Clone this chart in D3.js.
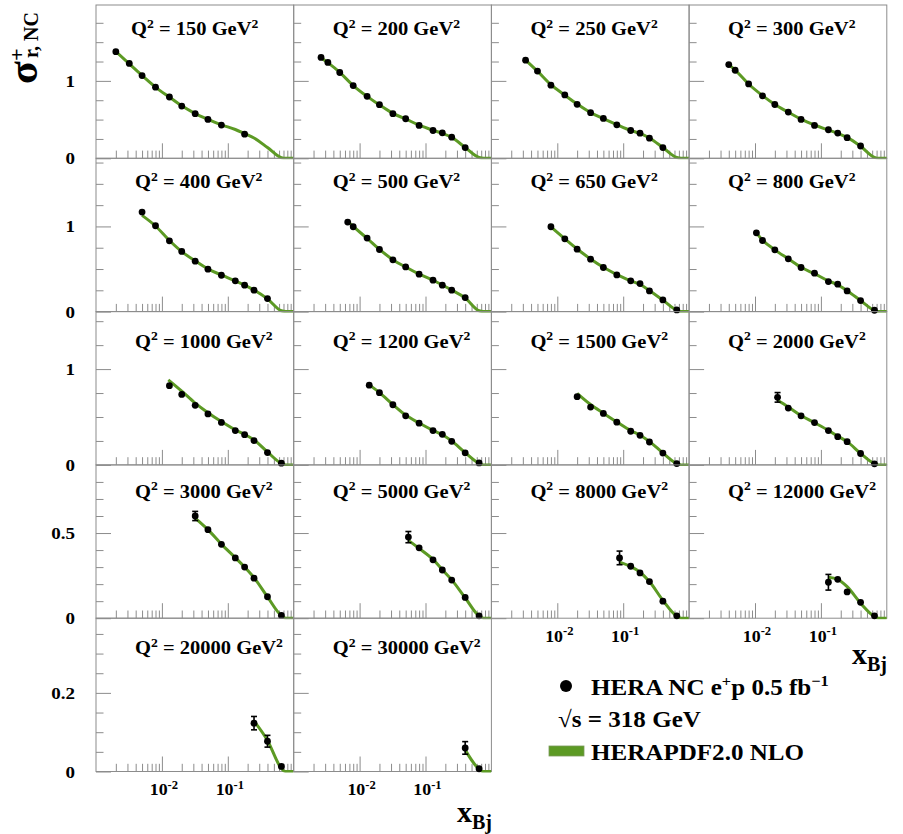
<!DOCTYPE html>
<html>
<head>
<meta charset="utf-8">
<script src="https://cdn.jsdelivr.net/npm/d3@7"></script>
<style>
  body { margin: 0; background: #fff; }
  svg { display: block; }
</style>
</head>
<body>
<svg id="chart" width="903" height="834"></svg>
<script>
// Q^2 bins, one panel each (GeV^2)
const q2 = [150, 200, 250, 300, 400, 500, 650, 800, 1000, 1200, 1500, 2000, 3000, 5000, 8000, 12000, 20000, 30000];

// measured points: Bjorken x per bin
const xBj = [
  [0.002, 0.0032, 0.005, 0.008, 0.013, 0.02, 0.032, 0.05, 0.08, 0.18],
  [0.0026, 0.0033, 0.005, 0.008, 0.013, 0.02, 0.032, 0.05, 0.08, 0.13, 0.18, 0.25, 0.4],
  [0.0033, 0.005, 0.008, 0.013, 0.02, 0.032, 0.05, 0.08, 0.13, 0.18, 0.25, 0.4],
  [0.004, 0.005, 0.008, 0.013, 0.02, 0.032, 0.05, 0.08, 0.13, 0.18, 0.25, 0.4],
  [0.005, 0.008, 0.013, 0.02, 0.032, 0.05, 0.08, 0.13, 0.18, 0.25, 0.4],
  [0.0066, 0.008, 0.013, 0.02, 0.032, 0.05, 0.08, 0.13, 0.18, 0.25, 0.4],
  [0.008, 0.013, 0.02, 0.032, 0.05, 0.08, 0.13, 0.18, 0.25, 0.4, 0.65],
  [0.0105, 0.013, 0.02, 0.032, 0.05, 0.08, 0.13, 0.18, 0.25, 0.4, 0.65],
  [0.013, 0.02, 0.032, 0.05, 0.08, 0.13, 0.18, 0.25, 0.4, 0.65],
  [0.014, 0.02, 0.032, 0.05, 0.08, 0.13, 0.18, 0.25, 0.4, 0.65],
  [0.02, 0.032, 0.05, 0.08, 0.13, 0.18, 0.25, 0.4, 0.65],
  [0.022, 0.032, 0.05, 0.08, 0.13, 0.18, 0.25, 0.4, 0.65],
  [0.032, 0.05, 0.08, 0.13, 0.18, 0.25, 0.4, 0.65],
  [0.055, 0.08, 0.13, 0.18, 0.25, 0.4, 0.65],
  [0.088, 0.13, 0.18, 0.25, 0.4, 0.65],
  [0.13, 0.18, 0.25, 0.4, 0.65],
  [0.25, 0.4, 0.65],
  [0.4, 0.65]
];

// measured reduced cross section per bin
const sigma = [
  [1.377, 1.225, 1.069, 0.918, 0.792, 0.675, 0.576, 0.502, 0.429, 0.312],
  [1.303, 1.238, 1.108, 0.939, 0.801, 0.693, 0.576, 0.511, 0.424, 0.359, 0.329, 0.273, 0.139],
  [1.268, 1.126, 0.944, 0.818, 0.697, 0.589, 0.515, 0.433, 0.359, 0.325, 0.260, 0.139],
  [1.210, 1.137, 0.961, 0.807, 0.695, 0.597, 0.502, 0.425, 0.369, 0.326, 0.266, 0.159],
  [1.169, 1.008, 0.831, 0.706, 0.592, 0.498, 0.427, 0.361, 0.310, 0.251, 0.153],
  [1.051, 0.996, 0.863, 0.729, 0.608, 0.525, 0.439, 0.369, 0.310, 0.251, 0.165],
  [0.996, 0.855, 0.733, 0.616, 0.518, 0.431, 0.361, 0.329, 0.243, 0.137, 0.020],
  [0.925, 0.835, 0.725, 0.620, 0.518, 0.451, 0.353, 0.322, 0.243, 0.129, 0.016],
  [0.827, 0.736, 0.622, 0.532, 0.443, 0.358, 0.315, 0.254, 0.129, 0.018],
  [0.832, 0.754, 0.628, 0.512, 0.435, 0.358, 0.319, 0.246, 0.126, 0.021],
  [0.712, 0.604, 0.537, 0.446, 0.351, 0.309, 0.239, 0.123, 0.014],
  [0.705, 0.593, 0.512, 0.442, 0.358, 0.295, 0.242, 0.119, 0.011],
  [0.600, 0.520, 0.434, 0.354, 0.300, 0.235, 0.126, 0.016],
  [0.476, 0.413, 0.343, 0.283, 0.224, 0.122, 0.014],
  [0.354, 0.305, 0.266, 0.215, 0.100, 0.014],
  [0.211, 0.228, 0.154, 0.093, 0.014],
  [0.123, 0.077, 0.013],
  [0.060, 0.007]
];

// total uncertainties of the measured points
const sigmaErr = [
  [0.015, 0.012, 0.010, 0.009, 0.008, 0.007, 0.006, 0.006, 0.006, 0.006],
  [0.015, 0.012, 0.010, 0.009, 0.008, 0.007, 0.006, 0.006, 0.006, 0.006, 0.006, 0.006, 0.005],
  [0.015, 0.012, 0.010, 0.009, 0.008, 0.007, 0.006, 0.006, 0.006, 0.006, 0.006, 0.005],
  [0.015, 0.012, 0.010, 0.009, 0.008, 0.007, 0.006, 0.006, 0.006, 0.006, 0.006, 0.005],
  [0.015, 0.012, 0.010, 0.009, 0.008, 0.007, 0.006, 0.006, 0.006, 0.006, 0.005],
  [0.015, 0.012, 0.010, 0.009, 0.008, 0.007, 0.006, 0.006, 0.006, 0.006, 0.005],
  [0.014, 0.011, 0.010, 0.009, 0.008, 0.007, 0.006, 0.006, 0.006, 0.005, 0.002],
  [0.014, 0.011, 0.010, 0.009, 0.008, 0.007, 0.006, 0.006, 0.006, 0.005, 0.002],
  [0.014, 0.011, 0.010, 0.009, 0.008, 0.007, 0.006, 0.006, 0.005, 0.002],
  [0.014, 0.011, 0.010, 0.009, 0.008, 0.007, 0.006, 0.006, 0.005, 0.002],
  [0.015, 0.011, 0.010, 0.009, 0.008, 0.007, 0.006, 0.005, 0.002],
  [0.050, 0.012, 0.010, 0.009, 0.008, 0.007, 0.006, 0.005, 0.002],
  [0.027, 0.010, 0.009, 0.008, 0.008, 0.007, 0.006, 0.002],
  [0.033, 0.010, 0.009, 0.008, 0.008, 0.006, 0.002],
  [0.040, 0.010, 0.009, 0.009, 0.007, 0.002],
  [0.046, 0.012, 0.011, 0.009, 0.002],
  [0.017, 0.015, 0.003],
  [0.016, 0.003]
];

// HERAPDF2.0 NLO prediction, sampled in x per bin
const theoryX = [
  [0.002, 0.0032, 0.005, 0.008, 0.013, 0.02, 0.032, 0.05, 0.08, 0.13, 0.18, 0.25, 0.4, 0.65, 0.76, 1],
  [0.0026, 0.0033, 0.005, 0.008, 0.013, 0.02, 0.032, 0.05, 0.08, 0.13, 0.18, 0.25, 0.4, 0.65, 0.76, 1],
  [0.0033, 0.005, 0.008, 0.013, 0.02, 0.032, 0.05, 0.08, 0.13, 0.18, 0.25, 0.4, 0.65, 0.76, 1],
  [0.004, 0.005, 0.008, 0.013, 0.02, 0.032, 0.05, 0.08, 0.13, 0.18, 0.25, 0.4, 0.65, 0.76, 1],
  [0.005, 0.008, 0.013, 0.02, 0.032, 0.05, 0.08, 0.13, 0.18, 0.25, 0.4, 0.65, 0.76, 1],
  [0.0066, 0.008, 0.013, 0.02, 0.032, 0.05, 0.08, 0.13, 0.18, 0.25, 0.4, 0.65, 0.76, 1],
  [0.008, 0.013, 0.02, 0.032, 0.05, 0.08, 0.13, 0.18, 0.25, 0.4, 0.65, 0.76, 1],
  [0.0105, 0.013, 0.02, 0.032, 0.05, 0.08, 0.13, 0.18, 0.25, 0.4, 0.65, 0.76, 1],
  [0.0125, 0.02, 0.032, 0.05, 0.08, 0.13, 0.18, 0.25, 0.4, 0.65, 0.76, 1],
  [0.014, 0.02, 0.032, 0.05, 0.08, 0.13, 0.18, 0.25, 0.4, 0.65, 0.76, 1],
  [0.02, 0.032, 0.05, 0.08, 0.13, 0.18, 0.25, 0.4, 0.65, 0.76, 1],
  [0.022, 0.032, 0.05, 0.08, 0.13, 0.18, 0.25, 0.4, 0.65, 0.76, 1],
  [0.032, 0.05, 0.08, 0.13, 0.18, 0.25, 0.4, 0.65, 0.76, 1],
  [0.055, 0.08, 0.13, 0.18, 0.25, 0.4, 0.65, 0.76, 1],
  [0.088, 0.13, 0.18, 0.25, 0.4, 0.65, 0.76, 1],
  [0.13, 0.18, 0.25, 0.4, 0.65, 0.76, 1],
  [0.25, 0.4, 0.65, 0.74, 1],
  [0.4, 0.65, 0.74, 1]
];
const theoryY = [
  [1.38, 1.22, 1.07, 0.92, 0.79, 0.678, 0.578, 0.503, 0.432, 0.372, 0.318, 0.262, 0.14, 0.008, 0, 0],
  [1.30, 1.235, 1.11, 0.94, 0.80, 0.69, 0.58, 0.508, 0.428, 0.362, 0.322, 0.27, 0.14, 0.01, 0, 0],
  [1.27, 1.125, 0.95, 0.815, 0.70, 0.59, 0.512, 0.435, 0.36, 0.322, 0.262, 0.14, 0.01, 0, 0],
  [1.21, 1.14, 0.96, 0.81, 0.695, 0.595, 0.505, 0.43, 0.365, 0.322, 0.27, 0.155, 0.012, 0, 0],
  [1.13, 1.005, 0.835, 0.705, 0.595, 0.50, 0.43, 0.36, 0.31, 0.252, 0.15, 0.01, 0, 0],
  [1.06, 1.0, 0.86, 0.73, 0.61, 0.523, 0.44, 0.368, 0.312, 0.252, 0.16, 0.01, 0, 0],
  [0.995, 0.855, 0.735, 0.618, 0.52, 0.435, 0.362, 0.318, 0.248, 0.135, 0.015, 0, 0],
  [0.925, 0.84, 0.725, 0.62, 0.52, 0.445, 0.36, 0.315, 0.245, 0.13, 0.014, 0, 0],
  [0.888, 0.77, 0.645, 0.545, 0.452, 0.365, 0.318, 0.26, 0.135, 0.016, 0, 0],
  [0.835, 0.755, 0.63, 0.52, 0.437, 0.36, 0.315, 0.25, 0.128, 0.016, 0, 0],
  [0.747, 0.63, 0.54, 0.448, 0.358, 0.31, 0.245, 0.125, 0.014, 0, 0],
  [0.675, 0.605, 0.515, 0.44, 0.36, 0.30, 0.243, 0.12, 0.012, 0, 0],
  [0.588, 0.52, 0.435, 0.355, 0.30, 0.238, 0.125, 0.015, 0, 0],
  [0.457, 0.41, 0.345, 0.285, 0.225, 0.12, 0.013, 0, 0],
  [0.329, 0.303, 0.27, 0.215, 0.105, 0.012, 0, 0],
  [0.24, 0.228, 0.185, 0.088, 0.01, 0, 0],
  [0.128, 0.079, 0.008, 0, 0],
  [0.055, 0.006, 0, 0]
];

// per-row vertical ranges and ticks
const yMaxByRow = [1.98, 1.8, 1.6, 0.9, 0.39];
const yMajorByRow = [[0, 1], [0, 1], [0, 1], [0, 0.5], [0, 0.2]];
const yMinorByRow = [
  [0.25, 0.5, 0.75, 1.25, 1.5, 1.75],
  [0.25, 0.5, 0.75, 1.25, 1.5, 1.75],
  [0.25, 0.5, 0.75, 1.25, 1.5],
  [0.1, 0.2, 0.3, 0.4, 0.6, 0.7, 0.8],
  [0.05, 0.1, 0.15, 0.25, 0.3, 0.35]
];
const xMajor = [0.01, 0.1];
const xMajorLabels = ["-2", "-1"];
const xMinor = [0.002, 0.003, 0.004, 0.005, 0.006, 0.007, 0.008, 0.009,
                0.02, 0.03, 0.04, 0.05, 0.06, 0.07, 0.08, 0.09,
                0.2, 0.3, 0.4, 0.5, 0.6, 0.7, 0.8, 0.9];

// ---- layout ----
const svg = d3.select("#chart");
const green = "#5c9a24";
const frameCol = "#8c8c8c";
const serif = "'Liberation Serif','Times New Roman',serif";
const panelW = 197.7, panelH = 153.3;
const colLeft = c => 96 + c * panelW;
const rowTop = r => 5 + r * panelH;
const labelDy = [30, 30, 36, 33, 36];

const x = d3.scaleLog().domain([1e-3, 1]).range([0, panelW]);

const line = d3.line()
  .x(d => x(d[0]))
  .y(d => d[2](d[1]))
  .curve(d3.curveMonotoneX);

function styleAxis(sel) {
  sel.select(".domain").remove();
  sel.selectAll(".tick line").attr("stroke", frameCol).attr("stroke-width", 1);
  sel.selectAll(".tick text").remove();
}

q2.forEach((q, i) => {
  const c = i % 4, r = Math.floor(i / 4);
  const g = svg.append("g").attr("transform", `translate(${colLeft(c)},${rowTop(r)})`);
  const y = d3.scaleLinear().domain([0, yMaxByRow[r]]).range([panelH, 0]);

  // x ticks pointing up from the bottom edge
  g.append("g").attr("transform", `translate(0,${panelH})`)
    .call(d3.axisBottom(x).tickValues(xMinor).tickSize(-7.7).tickFormat(""))
    .call(styleAxis);
  g.append("g").attr("transform", `translate(0,${panelH})`)
    .call(d3.axisBottom(x).tickValues(xMajor).tickSize(-15).tickFormat(""))
    .call(styleAxis);
  // y ticks pointing right from the left edge
  g.append("g")
    .call(d3.axisLeft(y).tickValues(yMinorByRow[r]).tickSize(-7.5).tickFormat(""))
    .call(styleAxis);
  g.append("g")
    .call(d3.axisLeft(y).tickValues(yMajorByRow[r]).tickSize(-15).tickFormat(""))
    .call(styleAxis);

  // frame
  g.append("rect").attr("width", panelW).attr("height", panelH)
    .attr("fill", "none").attr("stroke", frameCol).attr("stroke-width", 1);

  // prediction curve
  const clipId = "clip" + i;
  g.append("clipPath").attr("id", clipId)
    .append("rect").attr("width", panelW).attr("height", panelH + 2).attr("y", -1);
  const pts = theoryX[i].map((tx, k) => [tx, theoryY[i][k], y]);
  g.append("path").attr("d", line(pts))
    .attr("fill", "none").attr("stroke", green).attr("stroke-width", 3)
    .attr("clip-path", `url(#${clipId})`);

  // data points with error bars
  const data = xBj[i].map((xv, k) => ({ x: xv, s: sigma[i][k], e: sigmaErr[i][k] }));
  const pg = g.selectAll("g.pt").data(data).join("g").attr("class", "pt");
  pg.append("line")
    .attr("x1", d => x(d.x)).attr("x2", d => x(d.x))
    .attr("y1", d => y(d.s + d.e)).attr("y2", d => y(d.s - d.e))
    .attr("stroke", "#000").attr("stroke-width", 1.6);
  pg.filter(d => y(d.s - d.e) - y(d.s + d.e) > 8).each(function (d) {
    const s = d3.select(this);
    [d.s + d.e, d.s - d.e].forEach(v => {
      s.append("line")
        .attr("x1", x(d.x) - 3).attr("x2", x(d.x) + 3)
        .attr("y1", y(v)).attr("y2", y(v))
        .attr("stroke", "#000").attr("stroke-width", 1.6);
    });
  });
  pg.append("circle")
    .attr("cx", d => x(d.x)).attr("cy", d => y(d.s)).attr("r", 3.4)
    .attr("fill", "#000");

  // bin label
  const lt = g.append("g")
    .attr("transform", `translate(${q === 150 ? 35 : 39},${labelDy[r]}) scale(1.14,1)`)
    .append("text")
    .attr("font-family", serif).attr("font-weight", "bold").attr("font-size", 18)
    .attr("fill", "#000");
  lt.append("tspan").text("Q");
  lt.append("tspan").attr("font-size", 12).attr("dy", -7.5).text("2");
  lt.append("tspan").attr("dy", 7.5).text(` = ${q} GeV`);
  lt.append("tspan").attr("font-size", 12).attr("dy", -7.5).text("2");

  // y tick labels on the first column
  if (c === 0) {
    yMajorByRow[r].forEach(v => {
      g.append("g")
        .attr("transform", `translate(-21,${y(v) + 6}) scale(1.12,1)`)
        .append("text")
        .attr("text-anchor", "end")
        .attr("font-family", serif).attr("font-weight", "bold").attr("font-size", 17)
        .text(String(v));
    });
  }

  // x tick labels on the lowest panel of each column
  if (r === 4 || (r === 3 && c >= 2)) {
    xMajor.forEach((v, k) => {
      const t = g.append("g")
        .attr("transform", `translate(${x(v) + 2},${panelH + 23.5}) scale(1.05,1)`)
        .append("text")
        .attr("text-anchor", "middle")
        .attr("font-family", serif).attr("font-weight", "bold").attr("font-size", 17);
      t.append("tspan").text("10");
      t.append("tspan").attr("font-size", 12).attr("dy", -6.5).text(xMajorLabels[k]);
    });
  }
});

// axis titles
function xTitle(xEnd, yBase) {
  const t = svg.append("text")
    .attr("x", xEnd).attr("y", yBase)
    .attr("text-anchor", "end")
    .attr("font-family", serif).attr("font-weight", "bold").attr("font-size", 30);
  t.append("tspan").text("x");
  t.append("tspan").attr("font-size", 20).attr("dy", 7).text("Bj");
}
xTitle(492, 822);
xTitle(887, 664);

const yt = svg.append("g").attr("transform", "translate(37,84) rotate(-90)")
  .attr("font-family", serif).attr("font-weight", "bold");
yt.append("text").attr("x", 0).attr("y", 0).attr("font-size", 42).text("σ");
yt.append("text").attr("x", 23).attr("y", -13).attr("font-size", 22).text("+");
yt.append("text").attr("x", 26).attr("y", 1).attr("font-size", 20).text("r, NC");

// legend
const lg = svg.append("g").attr("font-family", serif).attr("font-weight", "bold");
lg.append("circle").attr("cx", 566).attr("cy", 686).attr("r", 6).attr("fill", "#000");
const l1 = lg.append("g").attr("transform", "translate(591,695) scale(1.09,1)")
  .append("text").attr("font-size", 23);
l1.append("tspan").text("HERA NC e");
l1.append("tspan").attr("font-size", 15).attr("dy", -9).text("+");
l1.append("tspan").attr("dy", 9).text("p 0.5 fb");
l1.append("tspan").attr("font-size", 15).attr("dy", -9).text("\u22121");
lg.append("g").attr("transform", "translate(558,727) scale(1.09,1)")
  .append("text").attr("font-size", 23).text("\u221As = 318 GeV");
lg.append("rect").attr("x", 549).attr("y", 746).attr("width", 35).attr("height", 10)
  .attr("fill", green).attr("stroke", "#7a9a5a").attr("stroke-width", 0.8);
lg.append("g").attr("transform", "translate(591,760) scale(1.09,1)")
  .append("text").attr("font-size", 23).text("HERAPDF2.0 NLO");
</script>
</body>
</html>
